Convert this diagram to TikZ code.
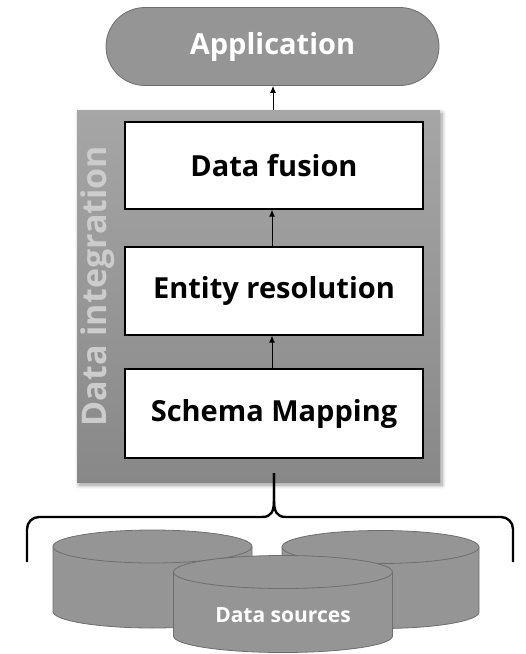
\documentclass[tikz,border=0pt]{standalone}
\usepackage{fontspec}
\setmainfont{Open Sans}
\usetikzlibrary{arrows.meta,shadows.blur}
\definecolor{appgray}{HTML}{959595}
\definecolor{edgegray}{HTML}{6E6E6E}
\definecolor{frametop}{HTML}{A6A6A6}
\definecolor{framebot}{HTML}{888888}
\definecolor{vtext}{HTML}{CCCCCC}
\tikzset{
  stepbox/.style={draw=black, line width=1.3pt, fill=white, minimum width=298pt, inner sep=0pt,
    font=\fontsize{29}{34}\selectfont\bfseries},
  flow/.style={-{Latex[length=7pt,width=6pt]}, line width=1pt},
  cylfill/.style={fill=appgray, draw=edgegray, line width=0.8pt},
}
\newcommand{\mycyl}[4]{% cx, top cy, bottom cy, rx
  \fill[appgray] (#1-#4,#2) -- (#1-#4,#3) arc[start angle=180,end angle=0,x radius=#4,y radius=16.5] -- (#1+#4,#2) -- cycle;
  \draw[edgegray, line width=0.8pt] (#1-#4,#2) -- (#1-#4,#3) arc[start angle=180,end angle=0,x radius=#4,y radius=16.5] -- (#1+#4,#2);
  \draw[cylfill] (#1,#2) ellipse[x radius=#4, y radius=16.5];
}
\begin{document}
\begin{tikzpicture}[x=1pt,y=-1pt]
\useasboundingbox (0,0) rectangle (526,654);
% application
\node[draw=edgegray, fill=appgray, line width=0.8pt, rounded corners=39pt, minimum width=333pt, minimum height=78pt,
  text=white, font=\fontsize{29}{34}\selectfont\bfseries] (app) at (272.5,46.5) {Application};
% integration frame
\node[blur shadow={shadow xshift=2pt, shadow yshift=-3pt, shadow blur steps=6, shadow blur radius=4pt},
  top color=frametop, bottom color=framebot, draw=none, minimum width=363pt, minimum height=372pt, inner sep=0pt]
  (frame) at (258.5,296) {};
\node[rotate=90, text=vtext, font=\fontsize{34}{40}\selectfont\bfseries] (vlabel) at (98,286) {Data integration};
% steps
\node[stepbox, minimum height=87pt] (fusion) at (274,165.5) {Data fusion};
\node[stepbox, minimum height=88pt] (entity) at (274,291) {Entity resolution};
\node[stepbox, minimum height=89pt] (schema) at (274,413.5) {Schema Mapping};
\draw[flow] (schema.north -| 272,0) -- (entity.south -| 272,0);
\draw[flow] (entity.north -| 272,0) -- (fusion.south -| 272,0);
\draw[flow] (frame.north -| 273,0) -- (app.south -| 273,0);
% data sources
\mycyl{152.5}{546.5}{611.5}{99.5}
\mycyl{380.5}{547}{612}{98.5}
\mycyl{283}{572}{636}{109.5}
\node[text=white, font=\fontsize{21}{25}\selectfont\bfseries] (ds) at (283,615) {Data sources};
% brace
\coordinate (bl) at (27,562);
\coordinate (br) at (513,562);
\coordinate (btip) at (274,473);
\draw[line width=2.4pt, line join=round]
  (bl) -- (27,529) arc[start angle=180,end angle=270,radius=12] -- (262,517)
  .. controls (271,517) and (274,512) .. (274,500) -- (btip);
\draw[line width=2.4pt, line join=round]
  (br) -- (513,529) arc[start angle=0,end angle=-90,radius=12] -- (286,517)
  .. controls (277,517) and (274,512) .. (274,500) -- (btip);
\end{tikzpicture}
\end{document}
